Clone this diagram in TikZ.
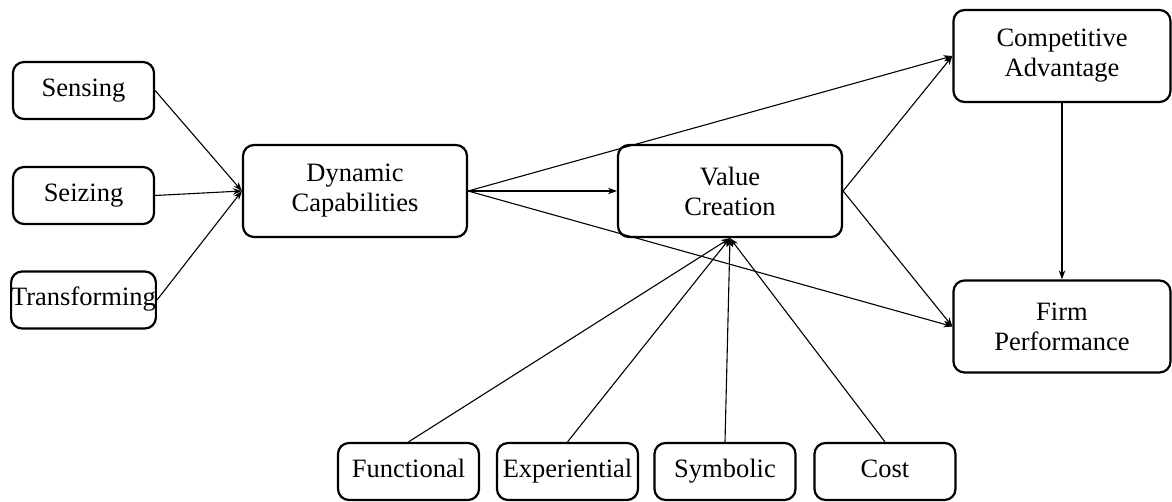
\documentclass[tikz,border=0pt]{standalone}
\usepackage{fontspec}
\setmainfont{Liberation Serif}
\newfontfamily\diagfont{Liberation Serif}
\usetikzlibrary{arrows.meta}
\begin{document}
\begin{tikzpicture}[x=1pt,y=-1pt,
  box/.style={draw=black,line width=2.2pt,rounded corners=11pt,fill=white,
    align=center,inner sep=0pt,font=\diagfont\fontsize{26.5}{30}\selectfont},
  small/.style={box,minimum width=141pt,minimum height=57pt,text height=18pt,text depth=6pt},
  big/.style={box,minimum width=224pt,minimum height=92pt},
  right/.style={box,minimum width=217pt,minimum height=92pt},
  link/.style={draw=black,line width=1.1pt,-{Stealth[length=9pt,width=6.5pt]}}]
\useasboundingbox (0,0) rectangle (1172,502);
\node[small] (sens) at (83.5,90.5) {Sensing};
\node[small] (seiz) at (83.5,195.5) {Seizing};
\node[small] (trans) at (83.5,300) {Transforming};
\node[big] (dc) at (355,191) {Dynamic\\Capabilities};
\node[big] (vc) at (730,191) {Value\\Creation};
\node[right] (ca) at (1062,56) {Competitive\\Advantage};
\node[right] (fp) at (1062,326.5) {Firm\\Performance};
\node[small] (func) at (408.5,471.5) {Functional};
\node[small] (exp) at (567.5,471.5) {Experiential};
\node[small] (sym) at (725,471.5) {Symbolic};
\node[small] (cost) at (885,471.5) {Cost};
\draw[link] (sens.east) -- (dc.west);
\draw[link] (seiz.east) -- (dc.west);
\draw[link] (trans.east) -- (dc.west);
\draw[link] (dc.east) -- (ca.west);
\draw[link] (dc.east) -- (vc.west);
\draw[link] (dc.east) -- (fp.west);
\draw[link] (vc.east) -- (ca.west);
\draw[link] (vc.east) -- (fp.west);
\draw[link] (ca.south) -- (fp.north);
\draw[link] (func.north) -- (vc.south);
\draw[link] (exp.north) -- (vc.south);
\draw[link] (sym.north) -- (vc.south);
\draw[link] (cost.north) -- (vc.south);
\end{tikzpicture}
\end{document}
